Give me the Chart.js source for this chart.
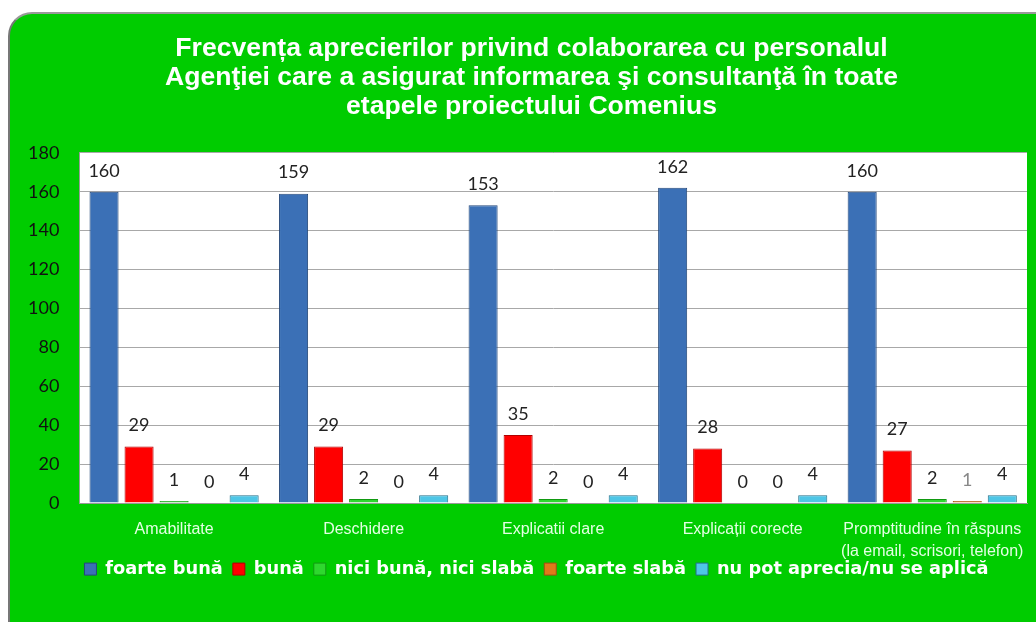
<!DOCTYPE html>
<html>
<head>
<meta charset="utf-8">
<script src="https://cdn.jsdelivr.net/npm/chart.js@4"></script>
<style>
  body { margin: 0; background: #fff; }
  #panou {
    position: absolute; left: 8px; top: 12px; width: 1040px; height: 620px;
    background: #00cc00; border-radius: 24px 0 0 0;
    border-left: 2px solid #777; border-top: 2px solid #999;
  }
  #caseta { position: absolute; left: 0; top: 0; width: 1036px; height: 622px; }
</style>
</head>
<body>
<div id="panou"></div>
<div id="caseta"><canvas id="grafic"></canvas></div>
<script>
// categorii si valori
const categorii = [
  'Amabilitate',
  'Deschidere',
  'Explicatii clare',
  'Explicații corecte',
  ['Promptitudine în răspuns', '(la email, scrisori, telefon)']
];

const foarteBuna = [160, 159, 153, 162, 160];
const buna = [29, 29, 35, 28, 27];
const niciBuna = [1, 2, 2, 0, 2];
const foarteSlaba = [0, 0, 0, 0, 1];
const nuPot = [4, 4, 4, 4, 4];

const ticksY = [0, 20, 40, 60, 80, 100, 120, 140, 160, 180];

// fundal alb pentru zona graficului
const fundalAlb = {
  id: 'fundalAlb',
  beforeDraw(chart) {
    const a = chart.chartArea;
    const c = chart.ctx;
    c.save();
    c.fillStyle = '#ffffff';
    c.fillRect(a.left, a.top, a.right - a.left, a.bottom - a.top);
    c.restore();
  }
};

// legenda putin mai sus si mai la dreapta, titlul putin la dreapta
const mutari = {
  id: 'mutari',
  afterLayout(chart) {
    const lg = chart.legend;
    lg.top -= 20; lg.bottom -= 20;
    lg.left += 19; lg.right += 19;
    const t = chart.titleBlock;
    t.left += 14; t.right += 14;
  }
};

// etichete cu valori deasupra barelor
const etichete = {
  id: 'etichete',
  afterDatasetsDraw(chart) {
    const c = chart.ctx;
    c.save();
    c.font = '18px Lato';
    c.textAlign = 'center';
    c.textBaseline = 'bottom';
    chart.data.datasets.forEach((ds, i) => {
      chart.getDatasetMeta(i).data.forEach((bar, j) => {
        const v = ds.data[j];
        c.fillStyle = (i == 3 && v > 0) ? '#888' : '#222';
        c.fillText(v, bar.x, bar.y - 12);
      });
    });
    c.restore();
  }
};

const dataGrafic = {
  labels: categorii,
  datasets: [
    { label: 'foarte bună', data: foarteBuna, backgroundColor: '#3b70b6', borderColor: '#24487a', borderWidth: 1 },
    { label: 'bună', data: buna, backgroundColor: '#ff0000', borderColor: '#b00000', borderWidth: 1 },
    { label: 'nici bună, nici slabă', data: niciBuna, backgroundColor: '#2ed82e', borderColor: '#119911', borderWidth: 1 },
    { label: 'foarte slabă', data: foarteSlaba, backgroundColor: '#e07a1a', borderColor: '#a05010', borderWidth: 1 },
    { label: 'nu pot aprecia/nu se aplică', data: nuPot, backgroundColor: '#4ec6e6', borderColor: '#226f88', borderWidth: 1 }
  ]
};

const configGrafic = {
  type: 'bar',
  data: dataGrafic,
  plugins: [fundalAlb, mutari, etichete],
  options: {
    responsive: true,
    maintainAspectRatio: false,
    animation: false,
    layout: { padding: { left: 8, right: 9, top: 0, bottom: 14 } },
    datasets: { bar: { categoryPercentage: 0.924, barPercentage: 0.83 } },
    plugins: {
      title: {
        display: true,
        text: [
          'Frecvența aprecierilor privind colaborarea cu personalul',
          'Agenţiei care a asigurat informarea şi consultanţă în toate',
          'etapele proiectului Comenius'
        ],
        color: '#ffffff',
        font: { family: 'Liberation Sans', size: 26.6, weight: 'bold', lineHeight: 1.1 },
        padding: { top: 34, bottom: 31 }
      },
      legend: {
        position: 'bottom',
        labels: {
          color: '#ffffff',
          font: { family: 'DejaVu Sans', size: 17.8, weight: 'bold' },
          boxWidth: 12,
          boxHeight: 12,
          padding: 10
        }
      },
      tooltip: { enabled: false }
    },
    scales: {
      x: {
        grid: { display: false },
        border: { color: '#999' },
        ticks: {
          color: '#e4ffe4',
          font: { family: 'Liberation Sans', size: 16, lineHeight: 1.35 },
          maxRotation: 0,
          padding: 8
        }
      },
      y: {
        min: 0,
        max: 180,
        afterBuildTicks(axis) { axis.ticks = ticksY.map(v => ({ value: v })); },
        grid: { color: '#a8a8a8', drawTicks: false },
        border: { color: '#999' },
        ticks: {
          color: '#111',
          font: { family: 'Lato', size: 18 },
          padding: 20
        }
      }
    }
  }
};

const myChart = new Chart(document.getElementById('grafic'), configGrafic);
</script>
</body>
</html>
